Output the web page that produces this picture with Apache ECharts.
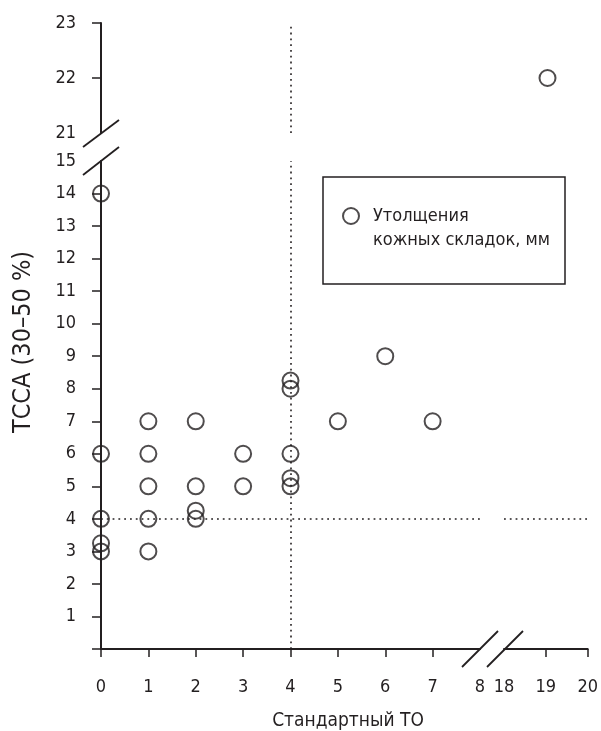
<!DOCTYPE html>
<html>
<head>
<meta charset="utf-8">
<script src="https://cdn.jsdelivr.net/npm/echarts@6/dist/echarts.min.js"></script>
<style>html,body{margin:0;padding:0;background:#fff}#c{width:601px;height:731px}</style>
</head>
<body>
<div id="c"></div>
<script>
// ---- data ----
const lowX = [0, 0, 0, 0, 0, 1, 1, 1, 1, 1, 2, 2, 2, 2, 3, 3, 4, 4, 4, 4, 4, 5, 6, 7];
const lowY = [14, 6, 4, 3.25, 3, 7, 6, 5, 4, 3, 7, 5, 4.25, 4, 6, 5, 8.25, 8, 6, 5.25, 5, 7, 9, 7];
const highX = [19];
const highY = [22];
const xTicksLeft = [0, 1, 2, 3, 4, 5, 6, 7, 8];
const xTicksRight = [18, 19, 20];
const yTicksLow = [1, 2, 3, 4, 5, 6, 7, 8, 9, 10, 11, 12, 13, 14, 15];
const yTicksHigh = [21, 22, 23];
const refX = 4;
const refY = 4;
const seriesName = 'Утолщения';
const seriesName2 = 'кожных складок, мм';
const xTitle = 'Стандартный ТО';
const yTitle = 'ТССА (30–50 %)';

const INK = '#231f20';
const FONT = "'Liberation Sans Narrow', 'DejaVu Sans Condensed', 'Roboto', sans-serif";
const LEGEND_NAME = seriesName;

const lowData = lowX.map((x, i) => [x, lowY[i]]);
const highData = highX.map((x, i) => [x, highY[i]]);

const axisLine = { show: true, lineStyle: { color: INK, width: 2 } };
const labelStyle = { color: INK, fontFamily: FONT, fontSize: 18 };
const dotted = { color: INK, width: 1.6, type: [1.8, 4] };

function mark(axisKey, v) {
  const o = {}; o[axisKey] = v;
  return {
    silent: true, symbol: ['none', 'none'],
    label: { show: false }, lineStyle: dotted,
    emphasis: { disabled: true }, animation: false,
    data: [o]
  };
}
const circleStyle = { color: 'rgba(0,0,0,0)', borderColor: INK, borderWidth: 2 };

const option = {
  animation: false,
  backgroundColor: '#fff',
  grid: [
    { left: 101, top: 161, width: 379, height: 488 },   // lower-left
    { left: 101, top: 23, width: 379, height: 110 },    // upper-left
    { left: 504, top: 161, width: 87, height: 488 },    // lower-right
    { left: 504, top: 23, width: 87, height: 110 }      // upper-right
  ],
  xAxis: [
    { gridIndex: 0, type: 'value', min: 0, max: 8, interval: 1,
      axisLine: axisLine, splitLine: { show: false },
      axisTick: { show: true, inside: false, length: 8, lineStyle: { color: INK, width: 1.5 }, customValues: xTicksLeft.slice(0, -1) },
      axisLabel: Object.assign({ margin: 29, customValues: xTicksLeft }, labelStyle) },
    { gridIndex: 1, type: 'value', min: 0, max: 8, show: false },
    { gridIndex: 2, type: 'value', min: 18, max: 20, interval: 1,
      axisLine: axisLine, splitLine: { show: false },
      axisTick: { show: true, length: 8, lineStyle: { color: INK, width: 1.5 }, customValues: xTicksRight.slice(1) },
      axisLabel: Object.assign({ margin: 29, customValues: xTicksRight }, labelStyle) },
    { gridIndex: 3, type: 'value', min: 18, max: 20, show: false }
  ],
  yAxis: [
    { gridIndex: 0, type: 'value', min: 0, max: 15, interval: 1,
      axisLine: axisLine, splitLine: { show: false },
      axisTick: { show: true, length: 9, lineStyle: { color: INK, width: 1.5 }, customValues: [0].concat(yTicksLow.slice(0, -1)) },
      axisLabel: Object.assign({ margin: 25, customValues: yTicksLow }, labelStyle) },
    { gridIndex: 1, type: 'value', min: 21, max: 23, interval: 1,
      axisLine: axisLine, splitLine: { show: false },
      axisTick: { show: true, length: 9, lineStyle: { color: INK, width: 1.5 }, customValues: yTicksHigh.slice(1) },
      axisLabel: Object.assign({ margin: 25, customValues: yTicksHigh }, labelStyle) },
    { gridIndex: 2, type: 'value', min: 0, max: 15, show: false },
    { gridIndex: 3, type: 'value', min: 21, max: 23, show: false }
  ],
  legend: {
    show: true, left: 342, top: 180, padding: 0,
    itemWidth: 34, itemHeight: 16, icon: 'circle',
    itemStyle: { color: 'rgba(0,0,0,0)', borderColor: INK, borderWidth: 2 },
    data: [LEGEND_NAME],
    formatter: () => '\n' + seriesName + '\n' + seriesName2,
    textStyle: { color: INK, fontFamily: FONT, fontSize: 18, lineHeight: 24 },
    selectedMode: false
  },
  graphic: [
    { type: 'rect', shape: { x: 323, y: 177, width: 242, height: 107 },
      style: { fill: 'none', stroke: INK, lineWidth: 1.5 }, z: 10 },
    { type: 'text', x: 23, y: 342, rotation: Math.PI / 2,
      style: { text: yTitle, fill: INK, font: '25px ' + FONT, textAlign: 'center', textVerticalAlign: 'middle' } },
    { type: 'text', x: 348, y: 721,
      style: { text: xTitle, fill: INK, font: '19px ' + FONT, textAlign: 'center', textVerticalAlign: 'middle' } },
    // axis break marks
    { type: 'line', shape: { x1: 83, y1: 147, x2: 119, y2: 120 }, style: { stroke: INK, lineWidth: 1.8 } },
    { type: 'line', shape: { x1: 83, y1: 175, x2: 119, y2: 147 }, style: { stroke: INK, lineWidth: 1.8 } },
    { type: 'line', shape: { x1: 462, y1: 667, x2: 498, y2: 631 }, style: { stroke: INK, lineWidth: 1.8 } },
    { type: 'line', shape: { x1: 487, y1: 667, x2: 523, y2: 631 }, style: { stroke: INK, lineWidth: 1.8 } }
  ],
  series: [
    { name: LEGEND_NAME, type: 'scatter', xAxisIndex: 0, yAxisIndex: 0, data: lowData,
      symbol: 'circle', symbolSize: 16, itemStyle: circleStyle, clip: false, z: 5,
      markLine: { silent: true, symbol: ['none', 'none'], label: { show: false }, lineStyle: dotted,
        emphasis: { disabled: true }, animation: false, data: [{ xAxis: refX }, { yAxis: refY }] } },
    { name: LEGEND_NAME, type: 'scatter', xAxisIndex: 1, yAxisIndex: 1, data: [],
      itemStyle: circleStyle, markLine: mark('xAxis', refX) },
    { name: LEGEND_NAME, type: 'scatter', xAxisIndex: 2, yAxisIndex: 2, data: [],
      itemStyle: circleStyle, markLine: mark('yAxis', refY) },
    { name: LEGEND_NAME, type: 'scatter', xAxisIndex: 3, yAxisIndex: 3, data: highData,
      symbol: 'circle', symbolSize: 16, itemStyle: circleStyle, clip: false, z: 5 }
  ]
};

const chart = echarts.init(document.getElementById('c'), null, { renderer: 'canvas' });
chart.setOption(option);
</script>
</body>
</html>
